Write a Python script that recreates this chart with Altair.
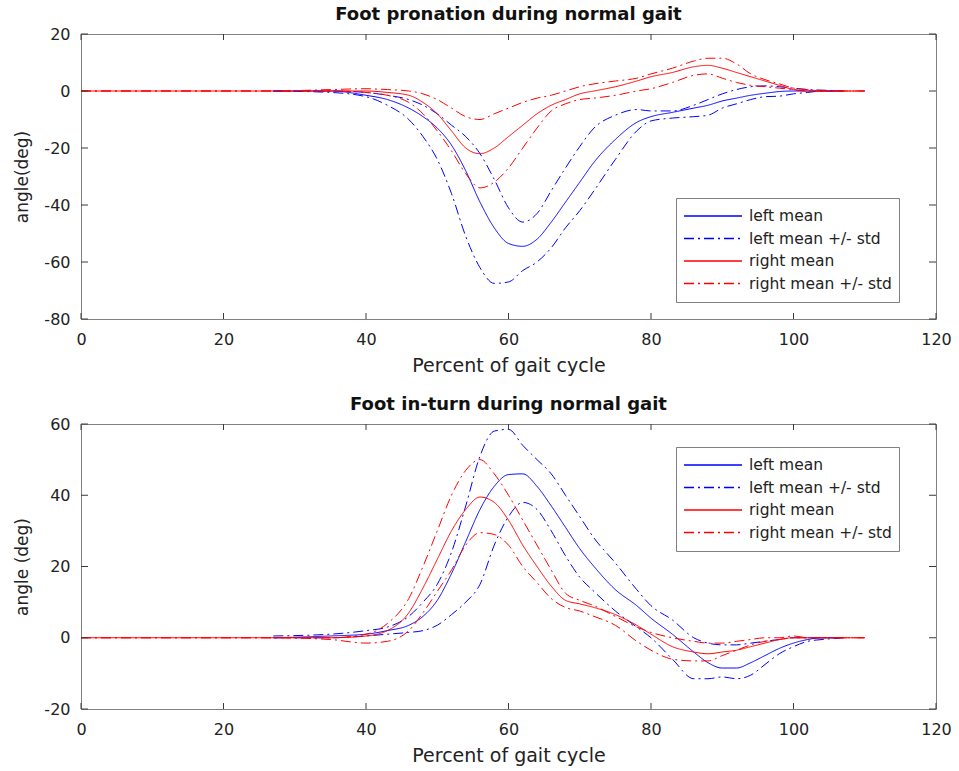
import altair as alt
import pandas as pd

# ---------------- data ----------------
x_left = [27, 35, 40, 43, 46, 48, 50, 52, 54, 56, 58, 60, 62, 64, 66, 68, 70, 72,
          75, 78, 80, 83, 86, 88, 90, 92, 94, 96, 98, 100, 102, 104, 107]
x_right = [0] + x_left + [110]

# Foot pronation (top)
pron_left_mean = [0, 0, -1.5, -3, -6, -9, -13, -19, -28, -39, -48, -53.5, -54.5, -52, -46, -39, -32, -25,
                  -17, -11, -9, -7.5, -6, -5, -3.5, -2.5, -1.5, -0.8, -0.2, 0, 0, 0, 0]
pron_left_hi = [0, 0, -0.5, -1.5, -3, -5, -8, -12, -16, -22, -31, -41, -46, -43, -35, -27, -19.5, -13,
                -8.5, -6.5, -7, -7, -5, -3, -1, 0.5, 1.5, 1.8, 1.5, 1, 0.5, 0.3, 0]
pron_left_lo = [0, -0.5, -2, -5, -10, -16, -24, -36, -51, -62, -67.5, -67, -63, -60, -55, -48, -42, -35,
                -24, -14, -10.5, -9.5, -9, -8.5, -6, -4.5, -3, -2, -1.8, -1, -0.5, 0, 0]
pron_right_mean = [0, 0, 0, 0, -0.5, -1.5, -4, -8, -14, -20, -22, -20, -16, -12, -8, -5, -3, -1, 0,
                   1.5, 3.5, 5, 6.5, 8.5, 9, 8, 6.5, 5, 3.5, 2, 0.5, 0, 0, 0, 0]
pron_right_hi = [0, 0, 0.5, 0.8, 0.5, 0, -1, -3, -6, -9, -10, -8, -6, -4, -2.5, -1.5, 0, 1.5, 2.5,
                 3.5, 4.5, 6, 8, 10.5, 11.5, 11.5, 9.5, 6, 4, 2.5, 1, 0.5, 0, 0, 0]
pron_right_lo = [0, 0, 0, -0.5, -1.5, -4, -8, -14, -21, -29, -34, -32, -27, -20, -13, -7, -4.5, -3, -2.5,
                 -1.5, 0, 0.8, 3, 5.5, 6, 4.5, 3, 2, 1.5, 1, 0.5, 0, 0, 0, 0]

# Foot in-turn (bottom)
turn_left_mean = [0, 0.5, 1, 2, 3.5, 6, 10.5, 18, 27, 36, 42.5, 45.8, 46, 42.5, 37, 31, 25, 20,
                  13.5, 9, 5.5, 1, -4, -7, -8.5, -8.5, -7, -5, -3, -1.5, -0.5, 0, 0]
turn_left_hi = [0.5, 1, 2, 3, 6, 10, 15, 24, 37, 51, 58, 58.5, 54, 50, 46, 40, 34, 28,
                21, 13.5, 9, 5, 0, -1.5, -2, -2, -1.5, -1, -0.5, 0, 0, 0, 0]
turn_left_lo = [0, 0, 0.5, 1, 1.5, 2, 3.5, 6.5, 10, 15, 26, 34, 38, 36, 30, 23, 17, 13,
                7.5, 3, 0, -6, -11.5, -11.5, -11, -11.5, -10.5, -7.5, -4.5, -2.5, -1, -0.5, 0]
turn_right_mean = [0, 0, 0, 0.5, 2, 7, 14, 22, 30, 36, 39.5, 38, 33, 26, 20, 14.5, 10.5, 9.5, 8.5,
                   6.5, 3.5, 1, -2.5, -4, -4.5, -4, -3.5, -2.5, -1.5, -0.5, 0, 0, 0, 0, 0]
turn_right_hi = [0, 0, 0, 1, 4, 11, 20, 30, 40, 47, 50, 46, 40, 33, 26, 19, 12.5, 10.5, 9,
                 6, 3, 1.5, 0, -1, -1.5, -1.5, -1, -0.5, 0, 0, 0.5, 0, 0, 0, 0]
turn_right_lo = [0, 0, -0.5, -1.5, -1, 2, 7, 13, 19, 26, 29.5, 29, 26, 20, 15.5, 11, 8.5, 7.5, 6,
                 3.5, -1, -3.5, -6, -6.5, -6.5, -5, -3.5, -2, -1, -0.5, 0, 0, 0, 0, 0]

series_names = ["left mean", "left mean +/- std", "right mean", "right mean +/- std"]
series_colors = ["#0000ff", "#0000ff", "#ff0000", "#ff0000"]
series_dashes = [[1, 0], [10, 4, 2, 4], [1, 0], [10, 4, 2, 4]]

x_ticks = [0, 20, 40, 60, 80, 100, 120]
top_y_ticks = [-80, -60, -40, -20, 0, 20]
bot_y_ticks = [-20, 0, 20, 40, 60]

FONT = "DejaVu Sans"
BOX = "#808080"
TICK = "#3a3a3a"
W, H = 855, 285


def build_df(lm, lh, ll, rm, rh, rl):
    rows = []
    for name, series, xs, ys in [
        ("lm", "left mean", x_left, lm),
        ("lh", "left mean +/- std", x_left, lh),
        ("ll", "left mean +/- std", x_left, ll),
        ("rm", "right mean", x_right, rm),
        ("rh", "right mean +/- std", x_right, rh),
        ("rl", "right mean +/- std", x_right, rl),
    ]:
        for xv, yv in zip(xs, ys):
            rows.append({"x": xv, "y": yv, "series": series, "line": name})
    return pd.DataFrame(rows)


def panel(df, title, ytitle, ydomain, yticks, legend_y):
    xscale = alt.Scale(domain=[0, 120], nice=False, zero=False)
    yscale = alt.Scale(domain=ydomain, nice=False, zero=False)
    xaxis = alt.Axis(
        values=x_ticks, title="Percent of gait cycle", grid=False, domain=False,
        tickSize=0, labelPadding=12, labelFont=FONT, labelFontSize=16, labelColor="#222222",
        titleFont=FONT, titleFontSize=19, titleFontWeight="normal", titleColor="#222222",
        titlePadding=9, labelFlush=False, labelExpr="'' + datum.value")
    yaxis = alt.Axis(
        values=yticks, title=ytitle, grid=False, domain=False,
        tickSize=0, labelPadding=11, labelFont=FONT, labelFontSize=16, labelColor="#222222",
        titleFont=FONT, titleFontSize=17, titleFontWeight="normal", titleColor="#222222",
        titlePadding=12, labelFlush=False, labelExpr="'' + datum.value")
    xenc = alt.X("x:Q", scale=xscale, axis=xaxis)
    yenc = alt.Y("y:Q", scale=yscale, axis=yaxis)
    leg = alt.Legend(
        title=None, orient="none", legendX=595, legendY=legend_y,
        fillColor="white", strokeColor=BOX, padding=7, cornerRadius=0,
        symbolType="stroke", symbolSize=3364, symbolStrokeWidth=1.5,
        clipHeight=22, rowPadding=0.5, labelOffset=6,
        labelFont=FONT, labelFontSize=15.5, labelColor="#222222", labelLimit=300,
    )
    lines = alt.Chart(df).mark_line(strokeWidth=1, interpolate="monotone").encode(
        x=xenc,
        y=yenc,
        color=alt.Color("series:N", scale=alt.Scale(domain=series_names, range=series_colors), legend=leg),
        strokeDash=alt.StrokeDash("series:N", scale=alt.Scale(domain=series_names, range=series_dashes), legend=leg),
        detail="line:N",
    )
    xt = pd.DataFrame({"x": x_ticks})
    yt = pd.DataFrame({"y": yticks})
    top_ticks = alt.Chart(xt).mark_rule(color=TICK, strokeWidth=1).encode(
        x=xenc, y=alt.value(0), y2=alt.value(6))
    bot_ticks = alt.Chart(xt).mark_rule(color=TICK, strokeWidth=1).encode(
        x=xenc, y=alt.value(H - 6), y2=alt.value(H))
    left_ticks = alt.Chart(yt).mark_rule(color=TICK, strokeWidth=1).encode(
        y=yenc, x=alt.value(0), x2=alt.value(7))
    right_ticks = alt.Chart(yt).mark_rule(color=TICK, strokeWidth=1).encode(
        y=yenc, x=alt.value(W - 7), x2=alt.value(W))
    return alt.layer(lines, top_ticks, bot_ticks, left_ticks, right_ticks).properties(
        width=W, height=H,
        title=alt.TitleParams(text=title, font=FONT, fontSize=18, fontWeight="bold",
                              color="#111111", anchor="middle", baseline="alphabetic", offset=-12),
    )


top_df = build_df(pron_left_mean, pron_left_hi, pron_left_lo, pron_right_mean, pron_right_hi, pron_right_lo)
bot_df = build_df(turn_left_mean, turn_left_hi, turn_left_lo, turn_right_mean, turn_right_hi, turn_right_lo)

top = panel(top_df, "Foot pronation during normal gait", "angle(deg)", [-80, 20], top_y_ticks, 164)
bot = panel(bot_df, "Foot in-turn during normal gait", "angle (deg)", [-20, 60], bot_y_ticks, 23)

chart = alt.vconcat(top, bot, spacing=19).resolve_scale(
    color="independent", strokeDash="independent"
).properties(
    padding={"left": 13, "top": 5, "right": 0, "bottom": 0},
    background="white",
).configure_view(stroke=BOX, strokeWidth=1)

chart.save("out.html", embed_options={"renderer": "svg", "actions": False})
